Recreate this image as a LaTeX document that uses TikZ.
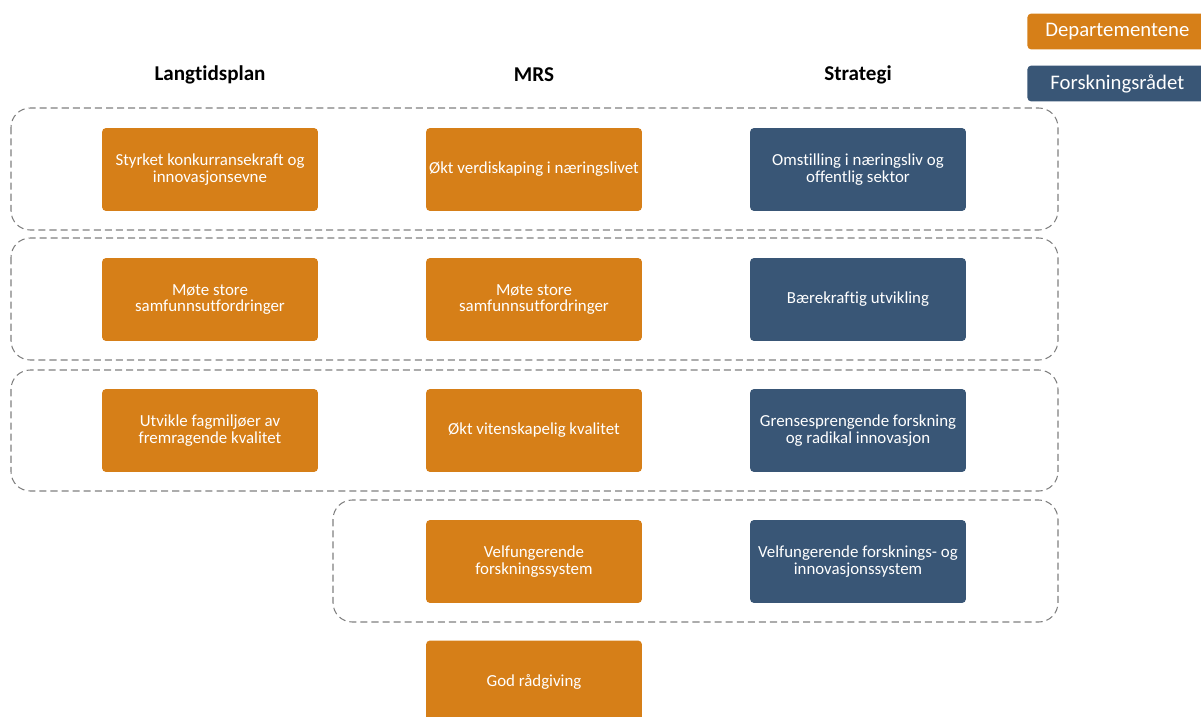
\documentclass[tikz,border=0pt]{standalone}
\usepackage{fontspec}
\setmainfont[Ligatures=NoCommon]{Carlito}
\definecolor{deptorange}{RGB}{214,127,24}
\definecolor{rcnblue}{RGB}{57,86,118}
\tikzset{
	box/.style={rounded corners=2.3pt, minimum width=4.32cm, minimum height=1.66cm, align=center, text=white, font=\fontsize{9.6}{9.6}\selectfont, inner sep=1pt},
	dept/.style={box, fill=deptorange},
	rcn/.style={box, fill=rcnblue},
	legend/.style={rounded corners=2.3pt, minimum width=3.6cm, minimum height=0.72cm, text=white, font=\fontsize{11.8}{13}\selectfont},
	head/.style={font=\fontsize{12}{14}\selectfont\bfseries},
	group/.style={draw=black!50, dash pattern=on 4pt off 2.3pt, line width=0.6pt, rounded corners=11pt}
}
\begin{document}
\begin{tikzpicture}[x=0.02cm, y=-0.02cm]
	\useasboundingbox (0,0) rectangle (1201,717);
	\clip (0,0) rectangle (1201,717);
	\draw[group] (11,108) rectangle (1058,230);
	\draw[group] (11,238) rectangle (1058,360);
	\draw[group] (11,370) rectangle (1058,491);
	\draw[group] (333,500) rectangle (1058,622);
	\node[head] (langtid) at (210,75) {Langtidsplan};
	\node[head] (mrs) at (534,75) {MRS};
	\node[head] (strategi) at (858,75) {Strategi};
	\node[legend, fill=deptorange, anchor=west] (legdept) at (1027,31.5) {Departementene};
	\node[legend, fill=rcnblue, anchor=west] (legrcn) at (1027,83.5) {Forskningsrådet};
	\node[dept] (lt1) at (210,169.5) {Styrket konkurransekraft og\\innovasjonsevne};
	\node[dept] (lt2) at (210,299.5) {Møte store\\samfunnsutfordringer};
	\node[dept] (lt3) at (210,430.5) {Utvikle fagmiljøer av\\fremragende kvalitet};
	\node[dept] (mrs1) at (534,169.5) {Økt verdiskaping i næringslivet};
	\node[dept] (mrs2) at (534,299.5) {Møte store\\samfunnsutfordringer};
	\node[dept] (mrs3) at (534,430.5) {Økt vitenskapelig kvalitet};
	\node[dept] (mrs4) at (534,561.5) {Velfungerende\\forskningssystem};
	\node[dept] (mrs5) at (534,682) {God rådgiving};
	\node[rcn] (str1) at (858,169.5) {Omstilling i næringsliv og\\offentlig sektor};
	\node[rcn] (str2) at (858,299.5) {Bærekraftig utvikling};
	\node[rcn] (str3) at (858,430.5) {Grensesprengende forskning\\og radikal innovasjon};
	\node[rcn] (str4) at (858,561.5) {Velfungerende forsknings- og\\innovasjonssystem};
\end{tikzpicture}
\end{document}
